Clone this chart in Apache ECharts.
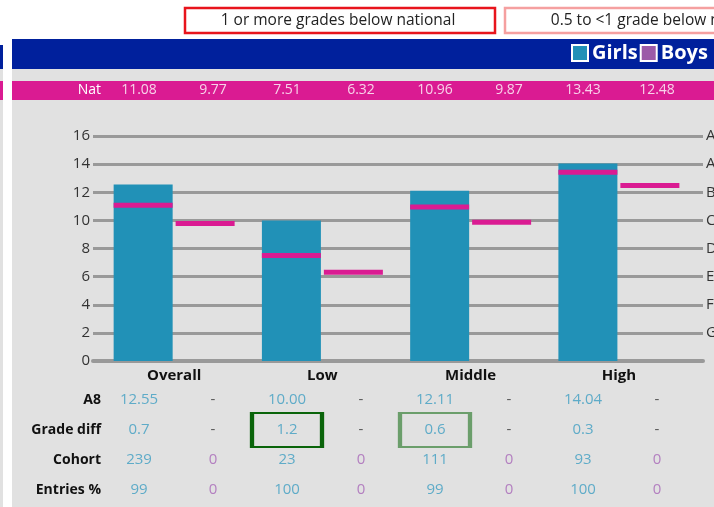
<!DOCTYPE html>
<html>
<head>
<meta charset="utf-8">
<script src="https://cdn.jsdelivr.net/npm/echarts@6/dist/echarts.min.js"></script>
<style>
  html, body { margin: 0; padding: 0; background: #fff; }
  #main { width: 714px; height: 507px; }
</style>
</head>
<body>
<div id="main"></div>
<script>
// chart data
var categories = ['Overall', 'Low', 'Middle', 'High'];
var girlsA8 = [12.55, 10.00, 12.11, 14.04];
var boysA8 = ['-', '-', '-', '-'];
var girlsNat = [11.08, 7.51, 10.96, 13.43];
var boysNat = [9.77, 6.32, 9.87, 12.48];
var gradeLetters = ['', 'G', 'F', 'E', 'D', 'C', 'B', 'A', 'A*'];
var gradeDiffGirls = ['0.7', '1.2', '0.6', '0.3'];
var gradeDiffBoys = ['-', '-', '-', '-'];
var cohortGirls = [239, 23, 111, 93];
var cohortBoys = [0, 0, 0, 0];
var entriesGirls = [99, 100, 99, 100];
var entriesBoys = [0, 0, 0, 0];
var rowLabels = ['A8', 'Grade diff', 'Cohort', 'Entries %'];
var gradeBoxes = [null, 'strong', 'light', null];
var keyLabels = ['1 or more grades below national', '0.5 to <1 grade below national'];

var TEAL = '#2191b7';
var PURPLE = '#9c5aa8';
var MAGENTA = '#da1b92';
var girlsText = '#3d9dc2';
var boysText = '#a767b8';

var columns = [];
categories.forEach(function (c) { columns.push(c + ' G'); columns.push(c + ' B'); });

function cell(col, row, text, color) {
	return { value: [col, row], label: { formatter: String(text), color: color } };
}

// table rows -> cells
var tableCells = [];
var rows = [
	[girlsA8.map(function (v) { return v.toFixed(2); }), boysA8],
	[gradeDiffGirls, gradeDiffBoys],
	[cohortGirls, cohortBoys],
	[entriesGirls, entriesBoys]
];
rows.forEach(function (r, ri) {
	for (var i = 0; i < categories.length; i++) {
		tableCells.push(cell(i * 2, ri, r[0][i], girlsText));
		var b = r[1][i];
		tableCells.push(cell(i * 2 + 1, ri, b, b === '-' ? '#333' : boysText));
	}
});

var natCells = [];
for (var i = 0; i < categories.length; i++) {
	natCells.push(cell(i * 2, 0, girlsNat[i].toFixed(2), '#fff'));
	natCells.push(cell(i * 2 + 1, 0, boysNat[i].toFixed(2), '#fff'));
}

var boxCells = [];
gradeBoxes.forEach(function (b, i) {
	if (!b) return;
	boxCells.push({
		value: [i * 2, 1],
		itemStyle: { borderColor: b === 'strong' ? '#0a640a' : '#6b9e6b' }
	});
});

var chart = echarts.init(document.getElementById('main'));

var option = {
	animation: false,
	textStyle: { fontFamily: 'Open Sans' },
	graphic: [
		{ type: 'rect', z: -10, silent: true, shape: { x: 12, y: 39, width: 702, height: 468 }, style: { fill: '#e1e1e1' } },
		{ type: 'rect', z: -9, silent: true, shape: { x: 12, y: 39, width: 702, height: 30 }, style: { fill: '#00209c' } },
		{ type: 'rect', z: -9, silent: true, shape: { x: 12, y: 81, width: 702, height: 19 }, style: { fill: MAGENTA } },
		{ type: 'rect', z: -10, silent: true, shape: { x: 0, y: 69, width: 3, height: 438 }, style: { fill: '#e1e1e1' } },
		{ type: 'rect', z: -9, silent: true, shape: { x: 0, y: 45, width: 3, height: 24 }, style: { fill: '#00209c' } },
		{ type: 'rect', z: -9, silent: true, shape: { x: 0, y: 81, width: 3, height: 19 }, style: { fill: MAGENTA } },
		{ type: 'rect', silent: true, shape: { x: 185, y: 8, width: 310, height: 25 }, style: { fill: '#fff', stroke: '#e8141c', lineWidth: 2.5 } },
		{ type: 'text', silent: true, x: 338, y: 21, style: { text: keyLabels[0], textAlign: 'center', textVerticalAlign: 'middle', fontSize: 15.5, fontFamily: 'Open Sans', fill: '#222' } },
		{ type: 'rect', silent: true, shape: { x: 505, y: 8, width: 310, height: 25 }, style: { fill: '#fff', stroke: '#f5a0a0', lineWidth: 2.5 } },
		{ type: 'text', silent: true, x: 660, y: 21, style: { text: keyLabels[1], textAlign: 'center', textVerticalAlign: 'middle', fontSize: 15.5, fontFamily: 'Open Sans', fill: '#222' } }
	],
	legend: {
		data: ['Girls', 'Boys'],
		left: 566, top: 38, width: 300, orient: 'horizontal',
		icon: 'rect', itemWidth: 16, itemHeight: 16, itemGap: 2,
		selectedMode: false,
		itemStyle: { borderColor: '#fff', borderWidth: 2 },
		textStyle: { color: '#fff', fontSize: 20, fontWeight: 'bold', padding: [0, 0, 0, -1] }
	},
	grid: [
		{ left: 100, right: 21, top: 136, bottom: 146, outerBoundsMode: 'none' },
		{ left: 93, right: 11, top: 136, bottom: 146, outerBoundsMode: 'none' },
		{ left: 102, right: 20, top: 385, height: 120, outerBoundsMode: 'none' },
		{ left: 102, right: 20, top: 81, height: 19, outerBoundsMode: 'none' }
	],
	xAxis: [
		{
			gridIndex: 0, type: 'category', data: categories,
			axisLine: { show: false }, axisTick: { show: false },
			axisLabel: { color: '#111', fontWeight: 'bold', fontSize: 15, margin: 7 }
		},
		{
			gridIndex: 1, type: 'value', min: 0, max: 1,
			axisLine: { show: true, lineStyle: { color: '#999', width: 4 } },
			axisTick: { show: false }, axisLabel: { show: false }, splitLine: { show: false }
		},
		{ gridIndex: 2, type: 'category', data: columns, show: false },
		{ gridIndex: 3, type: 'category', data: columns, show: false }
	],
	yAxis: [
		{ gridIndex: 0, type: 'value', min: 0, max: 16, show: false },
		{
			gridIndex: 1, type: 'value', min: 0, max: 16, interval: 2,
			axisLine: { show: false }, axisTick: { show: false },
			axisLabel: { color: '#333', fontSize: 15, margin: 3 },
			splitLine: { lineStyle: { color: '#999', width: 3 } }
		},
		{
			gridIndex: 1, type: 'value', min: 0, max: 16, interval: 2, position: 'right',
			axisLine: { show: false }, axisTick: { show: false }, splitLine: { show: false },
			axisLabel: {
				color: '#333', fontSize: 15, margin: 3,
				formatter: function (v) { return gradeLetters[v / 2]; }
			}
		},
		{
			gridIndex: 2, type: 'category', data: rowLabels, inverse: true,
			axisLine: { show: false }, axisTick: { show: false }, splitLine: { show: false },
			axisLabel: { color: '#111', fontWeight: 'bold', fontSize: 14, margin: 1 }
		},
		{
			gridIndex: 3, type: 'category', data: ['Nat'],
			axisLine: { show: false }, axisTick: { show: false }, splitLine: { show: false },
			axisLabel: { color: '#fff', fontSize: 14, margin: 1 }
		}
	],
	series: [
		{
			name: 'Girls', type: 'bar', xAxisIndex: 0, yAxisIndex: 0,
			data: girlsA8, barWidth: 59, barGap: '5%',
			itemStyle: { color: TEAL }
		},
		{
			name: 'Boys', type: 'bar', xAxisIndex: 0, yAxisIndex: 0,
			data: boysA8, barWidth: 59, barGap: '5%',
			itemStyle: { color: PURPLE }
		},
		{
			name: 'Girls national', type: 'scatter', xAxisIndex: 0, yAxisIndex: 0, z: 5,
			data: girlsNat, symbol: 'rect', symbolSize: [59, 5], symbolOffset: [-31, 0],
			itemStyle: { color: MAGENTA, opacity: 1 }
		},
		{
			name: 'Boys national', type: 'scatter', xAxisIndex: 0, yAxisIndex: 0, z: 5,
			data: boysNat, symbol: 'rect', symbolSize: [59, 5], symbolOffset: [31, 0],
			itemStyle: { color: MAGENTA, opacity: 1 }
		},
		{
			name: 'table', type: 'scatter', xAxisIndex: 2, yAxisIndex: 3,
			data: tableCells, symbolSize: 1, silent: true,
			itemStyle: { color: 'rgba(0,0,0,0)' },
			label: { show: true, position: 'inside', fontSize: 15 }
		},
		{
			name: 'boxes', type: 'scatter', xAxisIndex: 2, yAxisIndex: 3,
			data: boxCells, symbol: 'rect', symbolSize: [70, 34], silent: true,
			itemStyle: { color: 'rgba(0,0,0,0)', borderWidth: 3, opacity: 1 }
		},
		{
			name: 'nat', type: 'scatter', xAxisIndex: 3, yAxisIndex: 4,
			data: natCells, symbolSize: 1, silent: true,
			itemStyle: { color: 'rgba(0,0,0,0)' },
			label: { show: true, position: 'inside', fontSize: 14 }
		}
	]
};

chart.setOption(option);
</script>
</body>
</html>
